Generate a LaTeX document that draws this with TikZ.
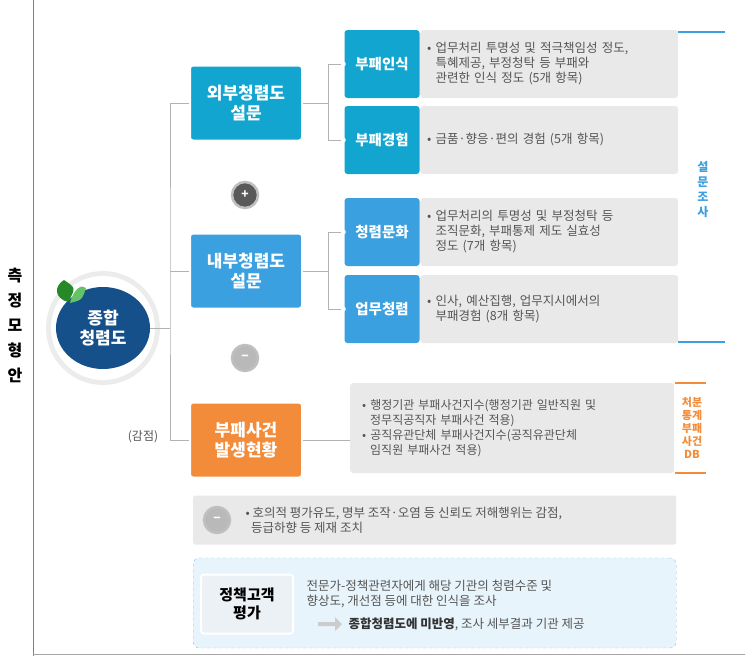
\documentclass[tikz,border=0pt]{standalone}
\usepackage{fontspec}
\setmainfont{Noto Sans CJK KR}
\usetikzlibrary{shapes.arrows,shapes.geometric}
\definecolor{outcol}{HTML}{12A5CF}
\definecolor{incol}{HTML}{3AA0E0}
\definecolor{accol}{HTML}{F28C3A}
\definecolor{navy}{HTML}{16508A}
\definecolor{panel}{HTML}{E9E9E9}
\definecolor{txtgray}{HTML}{555555}
\begin{document}
\begin{tikzpicture}[x=1pt,y=-1pt]
    \tikzstyle{mainbox} = [draw=white, line width=2pt, rounded corners=3pt, text=white, font=\bfseries\fontsize{17}{20}\selectfont, align=center, minimum width=112pt, minimum height=75pt]
    \tikzstyle{subbox} = [rounded corners=3pt, text=white, font=\bfseries\fontsize{14.5}{16}\selectfont, minimum width=75pt, minimum height=68pt]
    \tikzstyle{desc} = [fill=panel, rounded corners=3pt, text=txtgray, font=\fontsize{12.5}{15}\selectfont, align=left, text width=244pt, inner sep=7pt]
    \tikzstyle{link} = [draw=gray!60, line width=0.8pt]
    \tikzstyle{sign} = [circle, draw=gray!50, line width=2.5pt, fill=gray!70!black, minimum size=26pt, inner sep=0pt, font=\bfseries\large]
    \useasboundingbox (0,0) rectangle (745,656);
    % frame lines
    \draw[gray, line width=0.8pt] (33,0) -- (33,656);
    \draw[gray!70, line width=1pt] (33,654) -- (745,654);
    \node[font=\bfseries\fontsize{16}{25}\selectfont, align=center] (title) at (15,325) {측\\정\\모\\형\\안};
    % root
    \fill[gray!15] (103,328) circle (57);
    \fill[white] (103,328) circle (52);
    \node[ellipse, fill=navy, minimum width=94pt, minimum height=82pt, text=white, align=center, font=\bfseries\fontsize{17}{20}\selectfont] (root) at (103,328) {종합\\청렴도};
    \fill[green!45!black!85] (68,302) .. controls (54,298) and (54,286) .. (64,280) .. controls (76,288) .. (68,302);
    \fill[green!60!black!60] (70,303) .. controls (74,288) and (82,284) .. (86,288) .. controls (82,300) .. (70,303);
    % level one
    \node[mainbox, fill=outcol] (outer) at (246,103) {외부청렴도\\설문};
    \node[mainbox, fill=incol] (inner) at (246,271) {내부청렴도\\설문};
    \node[mainbox, fill=accol] (incident) at (246,440) {부패사건\\발생현황};
    \node[sign, text=white] (plus) at (245,195) {+};
    \node[sign, fill=gray!55, text=white] (minus) at (245,358) {−};
    \node[font=\fontsize{12}{14}\selectfont, text=txtgray] (deduct) at (143,437) {(감점)};
    \coordinate (trunk) at (170,328);
    \draw[link] (root.east) -- (trunk);
    \draw[link] (outer.west) -| (170,271) |- (incident.west);
    \draw[link] (inner.west) -- (170,271);
    % level two
    \node[desc, minimum height=68pt, anchor=west] (d1) at (420,64) {• 업무처리 투명성 및 적극책임성 정도,\\\ \ 특혜제공, 부정청탁 등 부패와\\\ \ 관련한 인식 정도 (5개 항목)};
    \node[desc, minimum height=68pt, anchor=west] (d2) at (420,140) {• 금품·향응·편의 경험 (5개 항목)};
    \node[desc, minimum height=68pt, anchor=west] (d3) at (420,232) {• 업무처리의 투명성 및 부정청탁 등\\\ \ 조직문화, 부패통제 제도 실효성\\\ \ 정도 (7개 항목)};
    \node[desc, minimum height=68pt, anchor=west] (d4) at (420,309) {• 인사, 예산집행, 업무지시에서의\\\ \ 부패경험 (8개 항목)};
    \node[subbox, fill=outcol] (s1) at (382,64) {부패인식};
    \node[subbox, fill=outcol] (s2) at (382,140) {부패경험};
    \node[subbox, fill=incol] (s3) at (382,232) {청렴문화};
    \node[subbox, fill=incol] (s4) at (382,309) {업무청렴};
    \foreach \a/\b in {s1/outer, s2/outer, s3/inner, s4/inner} {
        \draw[link] (\b.east) -- ++(25,0) |- (\a.west);
        \fill[white] (\a.west) ++(-1,0) circle (2.5);
    }
    % survey bracket
    \draw[incol, line width=1.2pt] (678,32) -- (725,32) (678,342) -- (725,342);
    \node[text=incol, font=\bfseries\fontsize{12}{15}\selectfont, align=center] (survey) at (703,190) {설\\문\\조\\사};
    % incident data
    \node[desc, text width=300pt, minimum height=90pt, anchor=west, inner sep=12pt, font=\fontsize{12}{15}\selectfont] (d5) at (350,428) {• 행정기관 부패사건지수(행정기관 일반직원 및\\\ \ 정무직공직자 부패사건 적용)\\• 공직유관단체 부패사건지수(공직유관단체\\\ \ 임직원 부패사건 적용)};
    \draw[link] (incident.east) -- (incident.east -| d5.west);
    \draw[accol, line width=1.5pt] (675,383) -- (706,383) (675,473) -- (706,473);
    \node[text=accol, font=\bfseries\fontsize{11}{13}\selectfont, align=center] (db) at (692,428) {처분\\통계\\부패\\사건\\DB};
    % penalty note
    \node[fill=panel, rounded corners=2pt, minimum width=483pt, minimum height=49pt, anchor=west] (note) at (193,520) {};
    \node[sign, fill=gray!55, text=white] (minus2) at (217,520) {−};
    \node[text=txtgray, font=\fontsize{12.5}{15}\selectfont, align=left, anchor=west] (notetext) at (242,520) {• 호의적 평가유도, 명부 조작·오염 등 신뢰도 저해행위는 감점,\\\ \ 등급하향 등 제재 조치};
    % customer survey
    \node[draw=incol!60, dashed, fill=incol!12, rounded corners=6pt, minimum width=483pt, minimum height=90pt, anchor=west] (policy) at (193,603) {};
    \node[draw=white, line width=2pt, fill=navy!8, rounded corners=3pt, minimum width=92pt, minimum height=59pt, align=center, font=\bfseries\fontsize{15}{18}\selectfont] (client) at (247,604) {정책고객\\평가};
    \node[text=txtgray, font=\fontsize{12.5}{15}\selectfont, align=left, anchor=west] (policytext) at (303,594) {전문가-정책관련자에게 해당 기관의 청렴수준 및\\향상도, 개선점 등에 대한 인식을 조사};
    \node[single arrow, fill=gray!40, minimum height=24pt, minimum width=14pt, single arrow head extend=3pt, inner sep=1pt] (arr) at (329,624) {};
    \node[font=\fontsize{12.5}{15}\selectfont, text=txtgray, anchor=west] (result) at (345,624) {\textbf{\color{black!80}종합청렴도에 미반영}, 조사 세부결과 기관 제공};
\end{tikzpicture}
\end{document}
